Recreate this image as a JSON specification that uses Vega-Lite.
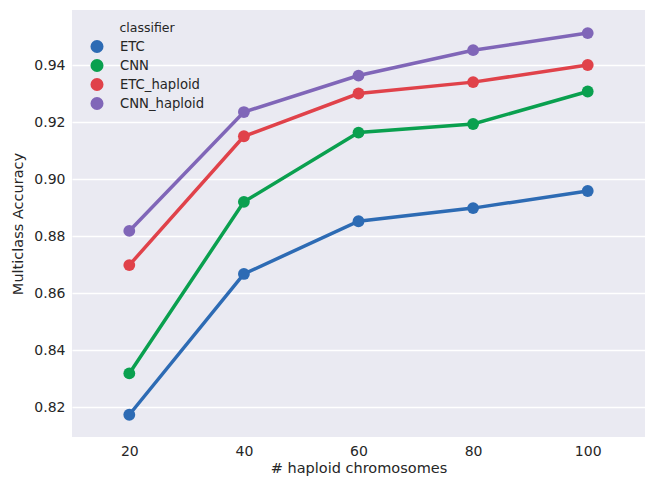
{
  "$schema": "https://vega.github.io/schema/vega-lite/v6.json",
  "autosize": {"type": "none"},
  "padding": {"left": 72, "top": 10, "right": 0, "bottom": 40},
  "width": 573,
  "height": 427,
  "background": "white",
  "config": {
    "view": {"fill": "#EAEAF2", "stroke": null},
    "font": "DejaVu Sans",
    "axis": {"labelFont": "DejaVu Sans", "titleFont": "DejaVu Sans", "labelColor": "#262626", "titleColor": "#262626", "labelFontSize": 14, "titleFontSize": 14.5, "titleFontWeight": "normal", "domain": false, "ticks": false, "gridColor": "white", "gridWidth": 1.3},
    "legend": {"labelFont": "DejaVu Sans", "titleFont": "DejaVu Sans", "labelFontSize": 13.2, "titleFontSize": 12.5, "titleFontWeight": "normal", "labelColor": "#262626", "titleColor": "#262626"}
  },
  "data": {"values": [
    {"n": 20, "classifier": "ETC", "acc": 0.8173},
    {"n": 40, "classifier": "ETC", "acc": 0.8667},
    {"n": 60, "classifier": "ETC", "acc": 0.8852},
    {"n": 80, "classifier": "ETC", "acc": 0.8898},
    {"n": 100, "classifier": "ETC", "acc": 0.8958},
    {"n": 20, "classifier": "CNN", "acc": 0.8318},
    {"n": 40, "classifier": "CNN", "acc": 0.8920},
    {"n": 60, "classifier": "CNN", "acc": 0.9163},
    {"n": 80, "classifier": "CNN", "acc": 0.9193},
    {"n": 100, "classifier": "CNN", "acc": 0.9307},
    {"n": 20, "classifier": "ETC_haploid", "acc": 0.8698},
    {"n": 40, "classifier": "ETC_haploid", "acc": 0.9150},
    {"n": 60, "classifier": "ETC_haploid", "acc": 0.9300},
    {"n": 80, "classifier": "ETC_haploid", "acc": 0.9340},
    {"n": 100, "classifier": "ETC_haploid", "acc": 0.9400},
    {"n": 20, "classifier": "CNN_haploid", "acc": 0.8818},
    {"n": 40, "classifier": "CNN_haploid", "acc": 0.9235},
    {"n": 60, "classifier": "CNN_haploid", "acc": 0.9363},
    {"n": 80, "classifier": "CNN_haploid", "acc": 0.9452},
    {"n": 100, "classifier": "CNN_haploid", "acc": 0.9512}
  ]},
  "encoding": {
    "x": {"field": "n", "type": "ordinal", "scale": {"type": "point", "padding": 0.5}, "axis": {"title": "# haploid chromosomes", "labelAngle": 0, "grid": false, "labelPadding": 7, "titlePadding": 3}},
    "y": {"field": "acc", "type": "quantitative", "scale": {"domain": [0.8095, 0.9593], "zero": false, "nice": false}, "axis": {"title": "Multiclass Accuracy", "values": [0.82, 0.84, 0.86, 0.88, 0.9, 0.92, 0.94], "format": ".2f", "labelPadding": 7, "titlePadding": 8}},
    "color": {"field": "classifier", "type": "nominal", "sort": ["ETC", "CNN", "ETC_haploid", "CNN_haploid"], "scale": {"domain": ["ETC", "CNN", "ETC_haploid", "CNN_haploid"], "range": ["#2D6BB4", "#0AA04F", "#E0424A", "#8066B8"]}, "legend": {"title": "classifier", "orient": "none", "legendX": 18, "legendY": 12, "symbolType": "circle", "symbolSize": 170, "symbolOpacity": 1, "symbolStrokeWidth": 0, "rowPadding": 5, "titleAnchor": "middle", "titlePadding": 5, "labelOffset": 16}}
  },
  "layer": [
    {"mark": {"type": "line", "strokeWidth": 3.5}},
    {"mark": {"type": "point", "filled": true, "opacity": 1, "size": 140}}
  ]
}
